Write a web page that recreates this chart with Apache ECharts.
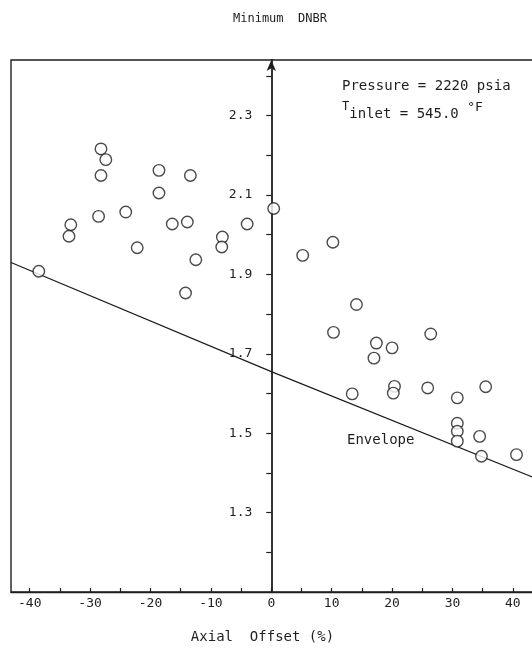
<!DOCTYPE html>
<html>
<head>
<meta charset="utf-8">
<script src="https://cdn.jsdelivr.net/npm/echarts@6/dist/echarts.min.js"></script>
<style>
  html, body { margin: 0; padding: 0; background: #fff; }
  #chart { width: 532px; height: 657px; }
</style>
</head>
<body>
<div id="chart"></div>
<script>
// Measured points: axial offset (%) vs minimum DNBR
const offsetNeg = [-28.2, -27.4, -28.2, -18.6, -13.4, -18.6, -28.6, -24.1, -33.2, -33.5,
                   -16.4, -13.9, -4.0, 0.4, -8.1, -8.2, -22.2, -12.5, -14.2, -38.5];
const dnbrNeg   = [2.216, 2.189, 2.149, 2.162, 2.149, 2.105, 2.046, 2.057, 2.025, 1.996,
                   2.027, 2.032, 2.027, 2.066, 1.994, 1.969, 1.967, 1.937, 1.853, 1.908];
const offsetPos = [5.2, 10.2, 14.1, 10.3, 17.4, 17.0, 20.0, 26.4, 20.4, 20.2,
                   13.4, 25.9, 30.8, 35.5, 30.8, 30.8, 30.8, 34.5, 34.8, 40.6];
const dnbrPos   = [1.948, 1.981, 1.824, 1.754, 1.727, 1.689, 1.715, 1.750, 1.618, 1.601,
                   1.599, 1.614, 1.589, 1.617, 1.525, 1.505, 1.480, 1.492, 1.442, 1.446];

// Lower envelope line
const envelopeX = [-43.1, 0, 43.5];
const envelopeY = [1.930, 1.655, 1.388];

// Axis ticks and labels
const xTicks  = [-40, -35, -30, -25, -20, -15, -10, -5, 0, 5, 10, 15, 20, 25, 30, 35, 40];
const xLabels = [-40, -30, -20, -10, 0, 10, 20, 30, 40];
const yTicks  = [1.2, 1.3, 1.4, 1.5, 1.6, 1.7, 1.8, 1.9, 2.0, 2.1, 2.2, 2.3, 2.4];
const yLabels = [1.3, 1.5, 1.7, 1.9, 2.1, 2.3];

const FONT = '"DejaVu Sans Mono", "Liberation Mono", monospace';
const INK = '#1e1e1e';

const X_MIN = -43.1, X_MAX = 43.5;
const GRID_LEFT = 11, GRID_RIGHT = -2, CHART_W = 532;

// The value axis is drawn through x = 0: shift it inward from the grid's left edge
const plotW = CHART_W - GRID_LEFT - GRID_RIGHT;
const zeroShift = plotW * (0 - X_MIN) / (X_MAX - X_MIN);

const points = offsetNeg.map((x, i) => [x, dnbrNeg[i]])
  .concat(offsetPos.map((x, i) => [x, dnbrPos[i]]));
const envelope = envelopeX.map((x, i) => [x, envelopeY[i]]);

const chart = echarts.init(document.getElementById('chart'), null, { renderer: 'canvas' });
chart.setOption({
  animation: false,
  backgroundColor: '#fff',
  grid: {
    left: GRID_LEFT, right: GRID_RIGHT, top: 60, bottom: 65,
    containLabel: false, outerBoundsMode: 'none',
    show: true, borderColor: INK, borderWidth: 1.4, backgroundColor: 'transparent'
  },
  xAxis: {
    type: 'value',
    min: X_MIN, max: X_MAX,
    name: 'Axial  Offset (%)',
    nameLocation: 'middle',
    nameGap: 38,
    nameTextStyle: { fontFamily: FONT, fontSize: 14, color: INK, padding: [0, 20, 0, 0] },
    axisLine: { show: true, onZero: false, lineStyle: { color: INK, width: 1.4 } },
    axisTick: { show: true, inside: true, length: 4, customValues: xTicks,
                lineStyle: { color: INK, width: 1.2 } },
    axisLabel: { customValues: xLabels, margin: 5, fontFamily: FONT, fontSize: 13, color: INK },
    splitLine: { show: false }
  },
  yAxis: {
    type: 'value',
    position: 'left',
    offset: -zeroShift,
    min: 1.1, max: 2.44,
    axisLine: {
      show: true, onZero: false,
      symbol: ['none', 'arrow'], symbolSize: [7, 11],
      lineStyle: { color: INK, width: 1.8 }
    },
    axisTick: { show: true, length: 5, customValues: yTicks,
                lineStyle: { color: INK, width: 1.2 } },
    axisLabel: { customValues: yLabels, margin: 19, fontFamily: FONT, fontSize: 13, color: INK,
                 formatter: v => v.toFixed(1) },
    splitLine: { show: false }
  },
  graphic: [
    { type: 'text', left: 233, top: 13,
      style: { text: 'Minimum  DNBR', fontFamily: FONT, fontSize: 12, fill: INK } },
    { type: 'text', left: 342, top: 79,
      style: { text: 'Pressure = 2220 psia', fontFamily: FONT, fontSize: 14, fill: INK } },
    { type: 'text', left: 342, top: 101,
      style: {
        text: '{t|T}{s|inlet = 545.0 }{d|°F}',
        fontFamily: FONT, fontSize: 14, fill: INK,
        rich: {
          t: { fontFamily: FONT, fontSize: 12, fill: INK, verticalAlign: 'top', lineHeight: 20 },
          s: { fontFamily: FONT, fontSize: 14, fill: INK, verticalAlign: 'bottom', lineHeight: 20 },
          d: { fontFamily: FONT, fontSize: 13, fill: INK, verticalAlign: 'top', lineHeight: 20 }
        }
      } },
    { type: 'text', left: 347, top: 433,
      style: { text: 'Envelope', fontFamily: FONT, fontSize: 14, fill: INK } }
  ],
  series: [
    {
      name: 'Envelope',
      type: 'line',
      data: envelope,
      showSymbol: false,
      lineStyle: { color: INK, width: 1.3 },
      z: 2
    },
    {
      name: 'DNBR',
      type: 'scatter',
      data: points,
      symbol: 'circle',
      symbolSize: 11.5,
      itemStyle: { color: '#fff', borderColor: INK, borderWidth: 1.4 },
      z: 3
    }
  ]
});
</script>
</body>
</html>
